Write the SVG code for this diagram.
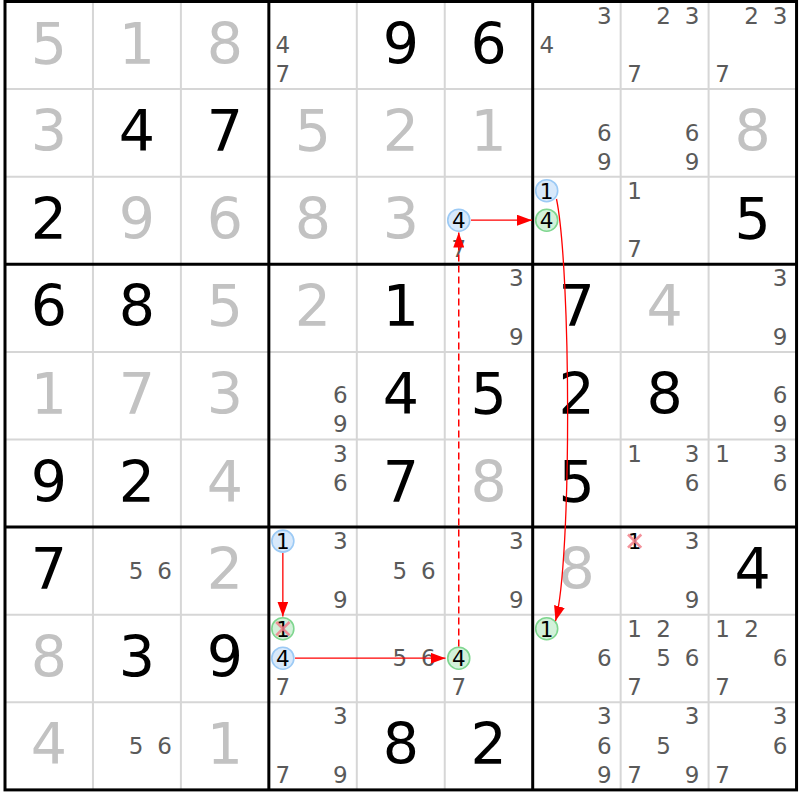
<svg xmlns="http://www.w3.org/2000/svg" width="800" height="800" viewBox="0 0 800 800">
<style>
text{font-family:"DejaVu Sans","Liberation Sans",sans-serif;text-anchor:middle}
.g{font-size:57px;fill:#000}
.s{font-size:57px;fill:#c2c2c2}
.c{font-size:23px;fill:#5a5a5a}
.k{font-size:21.5px;fill:#000}
.cb{fill:#d8e9fb;stroke:#9ccaf5;stroke-width:1.6}
.cg{fill:#d3f1da;stroke:#7fd68f;stroke-width:1.6}
.x{stroke:#f27f8a;stroke-width:2.6;stroke-opacity:0.85;fill:none}
.thin{stroke:#d6d6d6;stroke-width:2;fill:none}
.thick{stroke:#000;stroke-width:3;fill:none}
.arr{stroke:#ff0000;stroke-width:1.3;fill:none;marker-end:url(#ah)}
.dash{stroke-dasharray:7 4;stroke-width:1.5}
</style>
<defs>
<marker id="ah" viewBox="0 0 15 11" refX="15" refY="5.5" markerWidth="15" markerHeight="11" markerUnits="userSpaceOnUse" orient="auto">
<path d="M0,0 L15,5.5 L0,11 z" fill="#ff0000" stroke="none"/>
</marker>
</defs>
<rect x="0" y="0" width="800" height="800" fill="#fff"/>
<g id="grid">
<path class="thin" d="M92.95,1.5V789.9M180.9,1.5V789.9M356.8,1.5V789.9M444.75,1.5V789.9M620.65,1.5V789.9M708.6,1.5V789.9M5,89.1H796.55M5,176.7H796.55M5,351.9H796.55M5,439.5H796.55M5,614.7H796.55M5,702.3H796.55"/>
<path class="thick" d="M268.85,1.5V789.9M532.7,1.5V789.9M5,264.3H796.55M5,527.1H796.55"/>
<rect class="thick" x="5" y="1.5" width="791.55" height="788.4"/>
</g>
<g id="r0c0"><text class="s" x="49" y="63.5">5</text></g>
<g id="r0c1"><text class="s" x="137" y="63.5">1</text></g>
<g id="r0c2"><text class="s" x="224.9" y="63.5">8</text></g>
<g id="r0c3"><text class="c" x="282.85" y="53">4</text><text class="c" x="282.85" y="82">7</text></g>
<g id="r0c4"><text class="g" x="400.8" y="63.5">9</text></g>
<g id="r0c5"><text class="g" x="488.75" y="63.5">6</text></g>
<g id="r0c6"><text class="c" x="604.2" y="23.5">3</text><text class="c" x="546.7" y="53">4</text></g>
<g id="r0c7"><text class="c" x="663.65" y="23.5">2</text><text class="c" x="692.15" y="23.5">3</text><text class="c" x="634.65" y="82">7</text></g>
<g id="r0c8"><text class="c" x="751.6" y="23.5">2</text><text class="c" x="780.1" y="23.5">3</text><text class="c" x="722.6" y="82">7</text></g>

<g id="r1c0"><text class="s" x="49" y="151.1">3</text></g>
<g id="r1c1"><text class="g" x="137" y="151.1">4</text></g>
<g id="r1c2"><text class="g" x="224.9" y="151.1">7</text></g>
<g id="r1c3"><text class="s" x="312.85" y="151.1">5</text></g>
<g id="r1c4"><text class="s" x="400.8" y="151.1">2</text></g>
<g id="r1c5"><text class="s" x="488.75" y="151.1">1</text></g>
<g id="r1c6"><text class="c" x="604.2" y="140.6">6</text><text class="c" x="604.2" y="169.6">9</text></g>
<g id="r1c7"><text class="c" x="692.15" y="140.6">6</text><text class="c" x="692.15" y="169.6">9</text></g>
<g id="r1c8"><text class="s" x="752.6" y="151.1">8</text></g>

<g id="r2c0"><text class="g" x="49" y="238.7">2</text></g>
<g id="r2c1"><text class="s" x="137" y="238.7">9</text></g>
<g id="r2c2"><text class="s" x="224.9" y="238.7">6</text></g>
<g id="r2c3"><text class="s" x="312.85" y="238.7">8</text></g>
<g id="r2c4"><text class="s" x="400.8" y="238.7">3</text></g>
<g id="r2c5"><circle class="cb" cx="458.75" cy="220.2" r="11"/><text class="k" x="458.75" y="228">4</text><text class="c" x="458.75" y="257.2">7</text></g>
<g id="r2c6"><circle class="cb" cx="546.7" cy="190.7" r="11"/><text class="k" x="546.7" y="198.5">1</text><circle class="cg" cx="546.7" cy="220.2" r="11"/><text class="k" x="546.7" y="228">4</text></g>
<g id="r2c7"><text class="c" x="634.65" y="198.7">1</text><text class="c" x="634.65" y="257.2">7</text></g>
<g id="r2c8"><text class="g" x="752.6" y="238.7">5</text></g>

<g id="r3c0"><text class="g" x="49" y="326.3">6</text></g>
<g id="r3c1"><text class="g" x="137" y="326.3">8</text></g>
<g id="r3c2"><text class="s" x="224.9" y="326.3">5</text></g>
<g id="r3c3"><text class="s" x="312.85" y="326.3">2</text></g>
<g id="r3c4"><text class="g" x="400.8" y="326.3">1</text></g>
<g id="r3c5"><text class="c" x="516.25" y="286.3">3</text><text class="c" x="516.25" y="344.8">9</text></g>
<g id="r3c6"><text class="g" x="576.7" y="326.3">7</text></g>
<g id="r3c7"><text class="s" x="664.65" y="326.3">4</text></g>
<g id="r3c8"><text class="c" x="780.1" y="286.3">3</text><text class="c" x="780.1" y="344.8">9</text></g>

<g id="r4c0"><text class="s" x="49" y="413.9">1</text></g>
<g id="r4c1"><text class="s" x="137" y="413.9">7</text></g>
<g id="r4c2"><text class="s" x="224.9" y="413.9">3</text></g>
<g id="r4c3"><text class="c" x="340.35" y="403.4">6</text><text class="c" x="340.35" y="432.4">9</text></g>
<g id="r4c4"><text class="g" x="400.8" y="413.9">4</text></g>
<g id="r4c5"><text class="g" x="488.75" y="413.9">5</text></g>
<g id="r4c6"><text class="g" x="576.7" y="413.9">2</text></g>
<g id="r4c7"><text class="g" x="664.65" y="413.9">8</text></g>
<g id="r4c8"><text class="c" x="780.1" y="403.4">6</text><text class="c" x="780.1" y="432.4">9</text></g>

<g id="r5c0"><text class="g" x="49" y="501.5">9</text></g>
<g id="r5c1"><text class="g" x="137" y="501.5">2</text></g>
<g id="r5c2"><text class="s" x="224.9" y="501.5">4</text></g>
<g id="r5c3"><text class="c" x="340.35" y="461.5">3</text><text class="c" x="340.35" y="491">6</text></g>
<g id="r5c4"><text class="g" x="400.8" y="501.5">7</text></g>
<g id="r5c5"><text class="s" x="488.75" y="501.5">8</text></g>
<g id="r5c6"><text class="g" x="576.7" y="501.5">5</text></g>
<g id="r5c7"><text class="c" x="634.65" y="461.5">1</text><text class="c" x="692.15" y="461.5">3</text><text class="c" x="692.15" y="491">6</text></g>
<g id="r5c8"><text class="c" x="722.6" y="461.5">1</text><text class="c" x="780.1" y="461.5">3</text><text class="c" x="780.1" y="491">6</text></g>

<g id="r6c0"><text class="g" x="49" y="589.1">7</text></g>
<g id="r6c1"><text class="c" x="135.95" y="578.6">5</text><text class="c" x="164.45" y="578.6">6</text></g>
<g id="r6c2"><text class="s" x="224.9" y="589.1">2</text></g>
<g id="r6c3"><circle class="cb" cx="282.85" cy="541.1" r="11"/><text class="k" x="282.85" y="548.9">1</text><text class="c" x="340.35" y="549.1">3</text><text class="c" x="340.35" y="607.6">9</text></g>
<g id="r6c4"><text class="c" x="399.8" y="578.6">5</text><text class="c" x="428.3" y="578.6">6</text></g>
<g id="r6c5"><text class="c" x="516.25" y="549.1">3</text><text class="c" x="516.25" y="607.6">9</text></g>
<g id="r6c6"><text class="s" x="576.7" y="589.1">8</text></g>
<g id="r6c7"><text class="k" x="634.65" y="549.1">1</text><path class="x" d="M628,534.5L641.3,547.7M641.3,534.5L628,547.7"/><text class="c" x="692.15" y="549.1">3</text><text class="c" x="692.15" y="607.6">9</text></g>
<g id="r6c8"><text class="g" x="752.6" y="589.1">4</text></g>

<g id="r7c0"><text class="s" x="49" y="676.7">8</text></g>
<g id="r7c1"><text class="g" x="137" y="676.7">3</text></g>
<g id="r7c2"><text class="g" x="224.9" y="676.7">9</text></g>
<g id="r7c3"><circle class="cg" cx="282.85" cy="628.7" r="11"/><text class="k" x="282.85" y="636.5">1</text><path class="x" d="M276.2,622L289.5,635.4M289.5,622L276.2,635.4"/><circle class="cb" cx="282.85" cy="658.2" r="11"/><text class="k" x="282.85" y="666">4</text><text class="c" x="282.85" y="695.2">7</text></g>
<g id="r7c4"><text class="c" x="399.8" y="666.2">5</text><text class="c" x="428.3" y="666.2">6</text></g>
<g id="r7c5"><circle class="cg" cx="458.75" cy="658.2" r="11"/><text class="k" x="458.75" y="666">4</text><text class="c" x="458.75" y="695.2">7</text></g>
<g id="r7c6"><circle class="cg" cx="546.7" cy="628.7" r="11"/><text class="k" x="546.7" y="636.5">1</text><text class="c" x="604.2" y="666.2">6</text></g>
<g id="r7c7"><text class="c" x="634.65" y="636.7">1</text><text class="c" x="663.65" y="636.7">2</text><text class="c" x="663.65" y="666.2">5</text><text class="c" x="692.15" y="666.2">6</text><text class="c" x="634.65" y="695.2">7</text></g>
<g id="r7c8"><text class="c" x="722.6" y="636.7">1</text><text class="c" x="751.6" y="636.7">2</text><text class="c" x="780.1" y="666.2">6</text><text class="c" x="722.6" y="695.2">7</text></g>

<g id="r8c0"><text class="s" x="49" y="764.3">4</text></g>
<g id="r8c1"><text class="c" x="135.95" y="753.8">5</text><text class="c" x="164.45" y="753.8">6</text></g>
<g id="r8c2"><text class="s" x="224.9" y="764.3">1</text></g>
<g id="r8c3"><text class="c" x="340.35" y="724.3">3</text><text class="c" x="282.85" y="782.8">7</text><text class="c" x="340.35" y="782.8">9</text></g>
<g id="r8c4"><text class="g" x="400.8" y="764.3">8</text></g>
<g id="r8c5"><text class="g" x="488.75" y="764.3">2</text></g>
<g id="r8c6"><text class="c" x="604.2" y="724.3">3</text><text class="c" x="604.2" y="753.8">6</text><text class="c" x="604.2" y="782.8">9</text></g>
<g id="r8c7"><text class="c" x="692.15" y="724.3">3</text><text class="c" x="663.65" y="753.8">5</text><text class="c" x="634.65" y="782.8">7</text><text class="c" x="692.15" y="782.8">9</text></g>
<g id="r8c8"><text class="c" x="780.1" y="724.3">3</text><text class="c" x="780.1" y="753.8">6</text><text class="c" x="722.6" y="782.8">7</text></g>

<g id="connectors">
<path class="arr" d="M471,220.2 L532,220.2"/>
<path class="arr dash" d="M458.75,646.5 L458.75,232.5"/>
<path class="arr" d="M556.5,199 C571,270 572,560 555.5,621"/>
<path class="arr" d="M282.85,553 L282.85,616.5"/>
<path class="arr" d="M295,658.2 L445.5,658.2"/>
</g>
</svg>
